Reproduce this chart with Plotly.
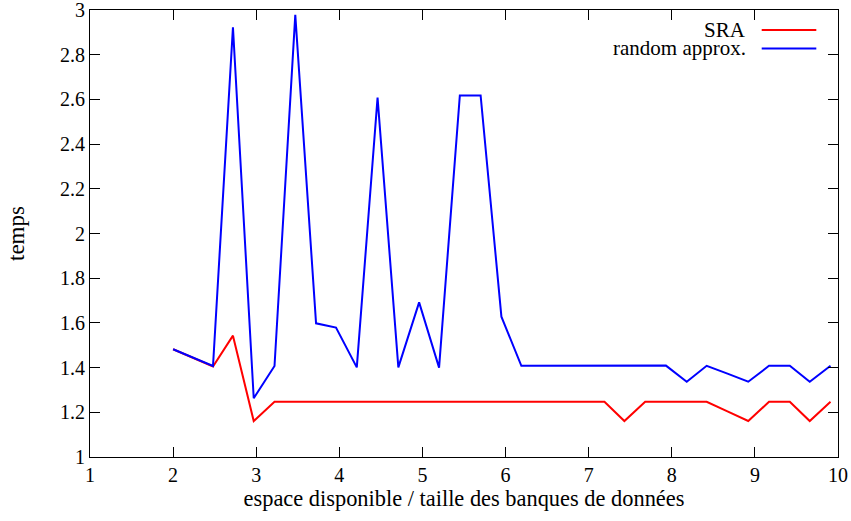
import plotly.graph_objects as go

x_vals = [2.0, 2.48, 2.72, 2.97, 3.22, 3.47, 3.72, 3.96, 4.21, 4.46, 4.71, 4.96, 5.20,
          5.45, 5.70, 5.95, 6.19, 6.44, 6.69, 6.94, 7.19, 7.43, 7.68, 7.93, 8.18,
          8.42, 8.67, 8.92, 9.17, 9.42, 9.66, 9.91]

sra = [1.482, 1.405, 1.543, 1.161, 1.247, 1.247, 1.247, 1.247, 1.250, 1.248, 1.250, 1.248, 1.248,
       1.248, 1.248, 1.248, 1.250, 1.250, 1.247, 1.247, 1.247, 1.161, 1.247, 1.247, 1.247,
       1.247, 1.204, 1.161, 1.247, 1.247, 1.161, 1.247]

random_approx = [1.482, 1.407, 2.923, 1.263, 1.407, 2.978, 1.598, 1.579, 1.401, 2.608, 1.401, 1.692, 1.400,
                 2.618, 2.618, 1.628, 1.408, 1.408, 1.409, 1.409, 1.407, 1.408, 1.407, 1.409, 1.337,
                 1.408, 1.373, 1.337, 1.408, 1.408, 1.337, 1.408]

series_names = ["SRA", "random approx."]
series_colors = ["#ff0000", "#0000ff"]

x_ticks = [1, 2, 3, 4, 5, 6, 7, 8, 9, 10]
y_ticks = [1, 1.2, 1.4, 1.6, 1.8, 2, 2.2, 2.4, 2.6, 2.8, 3]
y_tick_text = ["1", "1.2", "1.4", "1.6", "1.8", "2", "2.2", "2.4", "2.6", "2.8", "3"]

FONT = "Liberation Serif, Times New Roman, Times, serif"
TICK_SIZE = 20
LEGEND_SIZE = 21
XTITLE_SIZE = 22.4
YTITLE_SIZE = 23

fig = go.Figure()
fig.add_trace(go.Scatter(x=x_vals, y=sra, mode="lines", name=series_names[0],
                         line=dict(color=series_colors[0], width=2), showlegend=False))
fig.add_trace(go.Scatter(x=x_vals, y=random_approx, mode="lines", name=series_names[1],
                         line=dict(color=series_colors[1], width=2), showlegend=False))

# gnuplot-style key: text right-aligned, line sample on its right
legend_y = [0.955, 0.914]
for name, color, ly in zip(series_names, series_colors, legend_y):
    fig.add_annotation(x=0.879, y=ly, xref="paper", yref="paper", text=name,
                       showarrow=False, xanchor="right", yanchor="middle", borderpad=0,
                       font=dict(family=FONT, size=LEGEND_SIZE, color="black"))
    fig.add_shape(type="line", xref="paper", yref="paper",
                  x0=0.898, x1=0.971, y0=ly, y1=ly,
                  line=dict(color=color, width=2))

axis_common = dict(showgrid=False, zeroline=False, showline=True, linecolor="black",
                   linewidth=1.2, mirror="allticks", ticks="inside", ticklen=10,
                   tickwidth=1, tickcolor="black", automargin=False,
                   ticklabeloverflow="allow",
                   tickfont=dict(family=FONT, size=TICK_SIZE, color="black"))

fig.update_xaxes(range=[1, 10], tickvals=x_ticks, ticktext=[str(v) for v in x_ticks],
                 title=dict(text="espace disponible / taille des banques de données",
                            font=dict(family=FONT, size=XTITLE_SIZE, color="black"), standoff=0),
                 **axis_common)
fig.update_yaxes(range=[1, 3], tickvals=y_ticks, ticktext=y_tick_text,
                 title=dict(text="temps", font=dict(family=FONT, size=YTITLE_SIZE, color="black"),
                            standoff=28),
                 **axis_common)

fig.update_layout(width=851, height=521, margin=dict(l=90, r=13, t=10, b=64),
                  plot_bgcolor="white", paper_bgcolor="white",
                  font=dict(family=FONT, size=TICK_SIZE, color="black"))

fig.write_html("out.html")
